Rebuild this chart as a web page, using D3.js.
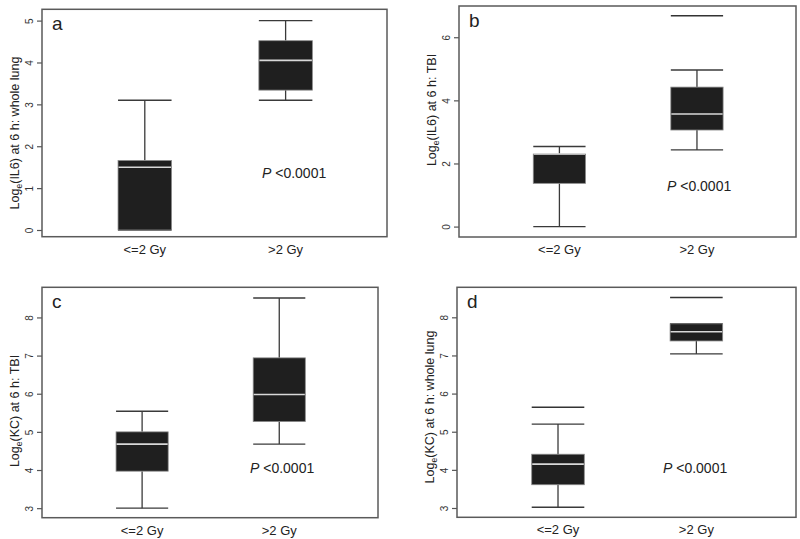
<!DOCTYPE html>
<html>
<head>
<meta charset="utf-8">
<script src="https://cdn.jsdelivr.net/npm/d3@7"></script>
<style>
  html, body { margin: 0; padding: 0; background: #fff; }
  svg { display: block; font-family: "Liberation Sans", Arial, sans-serif; }
</style>
</head>
<body>
<svg id="chart" width="800" height="539"></svg>
<script>
// ---- Data ----
const categories = ["<=2 Gy", ">2 Gy"];
const panelLetters = ["a", "b", "c", "d"];
const yTitleMarkers = ["IL6", "IL6", "KC", "KC"];
const yTitleSites = ["whole lung", "TBI", "TBI", "whole lung"];
const pLabel = "<0.0001";

// box stats per group: [lowWhisker, Q1, median, Q3, highWhisker]
const statsA = [[0.0, 0.0, 1.50, 1.66, 3.10], [3.10, 3.34, 4.05, 4.52, 5.00]];
const statsB = [[0.0, 1.37, 2.30, 2.30, 2.54], [2.43, 3.06, 3.57, 4.42, 4.96]];
const statsC = [[3.00, 3.97, 4.68, 5.00, 5.54], [4.68, 5.27, 5.98, 6.94, 8.51]];
const statsD = [[3.02, 3.61, 4.15, 4.41, 5.20], [7.04, 7.38, 7.62, 7.83, 7.83]];
// extreme values drawn as lines: [group index, value]
const outliersA = [];
const outliersB = [[1, 6.68]];
const outliersC = [];
const outliersD = [[0, 5.64], [1, 8.52]];

const ticksA = [0, 1, 2, 3, 4, 5];
const ticksB = [0, 2, 4, 6];
const ticksC = [3, 4, 5, 6, 7, 8];
const ticksD = [3, 4, 5, 6, 7, 8];

const yDomainA = [-0.16, 5.27];
const yDomainB = [-0.33, 6.99];
const yDomainC = [2.75, 8.79];
const yDomainD = [2.756, 8.787];

// ---- Layout ----
const frames = [
  { x0: 42,  x1: 387, y0: 9.3,   y1: 236.7 },
  { x0: 459, x1: 796, y0: 6,     y1: 237 },
  { x0: 42,  x1: 378, y0: 287.3, y1: 517.7 },
  { x0: 457, x1: 796, y0: 287.3, y1: 517.3 }
];
const pPos = [[262, 178], [667, 190.7], [250, 472.7], [663, 472.7]];
const titleCenterY = [133, 110, 411, 407];
const titleX = [19, 436, 19, 434];

const panels = [
  { stats: statsA, out: outliersA, ticks: ticksA, dom: yDomainA },
  { stats: statsB, out: outliersB, ticks: ticksB, dom: yDomainB },
  { stats: statsC, out: outliersC, ticks: ticksC, dom: yDomainC },
  { stats: statsD, out: outliersD, ticks: ticksD, dom: yDomainD }
];

const svg = d3.select("#chart");
const halfW = 0.19;

panels.forEach((p, i) => {
  const f = frames[i];
  const g = svg.append("g");
  const x = d3.scaleLinear().domain([0.27, 2.72]).range([f.x0, f.x1]);
  const y = d3.scaleLinear().domain(p.dom).range([f.y1, f.y0]);

  // y axis (R style, rotated labels)
  const ax = g.append("g").attr("transform", `translate(${f.x0},0)`)
    .call(d3.axisLeft(y).tickValues(p.ticks).tickSize(5).tickPadding(3).tickFormat(d3.format("d")));
  ax.select(".domain").remove();
  ax.selectAll(".tick line").attr("stroke", "#555").attr("stroke-width", 1.2);
  ax.selectAll(".tick text")
    .attr("x", null).attr("dy", null)
    .attr("transform", "translate(-9,0) rotate(-90)")
    .attr("text-anchor", "middle")
    .attr("font-size", 10)
    .attr("font-family", "Liberation Sans, Arial, sans-serif")
    .attr("fill", "#333");

  // boxes
  p.stats.forEach((s, k) => {
    const cx = x(k + 1);
    const xl = x(k + 1 - halfW), xr = x(k + 1 + halfW);
    const [lo, q1, med, q3, hi] = s;
    const wc = "#3a3a3a";
    // whiskers
    if (hi > q3) g.append("line").attr("x1", cx).attr("x2", cx).attr("y1", y(q3)).attr("y2", y(hi)).attr("stroke", wc).attr("stroke-width", 1.3);
    if (lo < q1) g.append("line").attr("x1", cx).attr("x2", cx).attr("y1", y(q1)).attr("y2", y(lo)).attr("stroke", wc).attr("stroke-width", 1.3);
    g.append("line").attr("x1", xl).attr("x2", xr).attr("y1", y(hi)).attr("y2", y(hi)).attr("stroke", wc).attr("stroke-width", 1.4);
    g.append("line").attr("x1", xl).attr("x2", xr).attr("y1", y(lo)).attr("y2", y(lo)).attr("stroke", wc).attr("stroke-width", 1.4);
    // box
    g.append("rect").attr("x", xl).attr("width", xr - xl)
      .attr("y", y(q3)).attr("height", Math.max(0, y(q1) - y(q3)))
      .attr("fill", "#1f1f1f").attr("stroke", "#8a8a8a").attr("stroke-width", 0.8);
    // median
    g.append("line").attr("x1", xl + 0.5).attr("x2", xr - 0.5).attr("y1", y(med)).attr("y2", y(med))
      .attr("stroke", "#d8d8d8").attr("stroke-width", 1.6);
  });
  // extreme values as lines
  p.out.forEach(([k, v]) => {
    g.append("line").attr("x1", x(k + 1 - halfW)).attr("x2", x(k + 1 + halfW))
      .attr("y1", y(v)).attr("y2", y(v)).attr("stroke", "#333").attr("stroke-width", 1.5);
  });

  // frame
  g.append("rect").attr("x", f.x0).attr("y", f.y0).attr("width", f.x1 - f.x0).attr("height", f.y1 - f.y0)
    .attr("fill", "none").attr("stroke", "#5a5a5a").attr("stroke-width", 1.5);

  // category labels
  categories.forEach((c, k) => {
    g.append("text").attr("x", x(k + 1)).attr("y", f.y1 + 17)
      .attr("text-anchor", "middle").attr("font-size", 13).attr("fill", "#222").text(c);
  });

  // panel letter
  g.append("text").attr("x", f.x0 + 10).attr("y", f.y0 + 21)
    .attr("font-size", 19).attr("fill", "#222").text(panelLetters[i]);

  // p-value
  const pt = g.append("text").attr("x", pPos[i][0]).attr("y", pPos[i][1])
    .attr("font-size", 14).attr("fill", "#222");
  pt.append("tspan").attr("font-style", "italic").text("P");
  pt.append("tspan").text(" " + pLabel);

  // y title
  const t = g.append("text")
    .attr("transform", `translate(${titleX[i]},${titleCenterY[i]}) rotate(-90)`)
    .attr("text-anchor", "middle").attr("font-size", 12.5).attr("fill", "#222");
  t.append("tspan").text("Log");
  t.append("tspan").attr("font-size", 8.5).attr("dy", 3).text("e");
  t.append("tspan").attr("dy", -3).text(`(${yTitleMarkers[i]}) at 6 h: ${yTitleSites[i]}`);
});
</script>
</body>
</html>
